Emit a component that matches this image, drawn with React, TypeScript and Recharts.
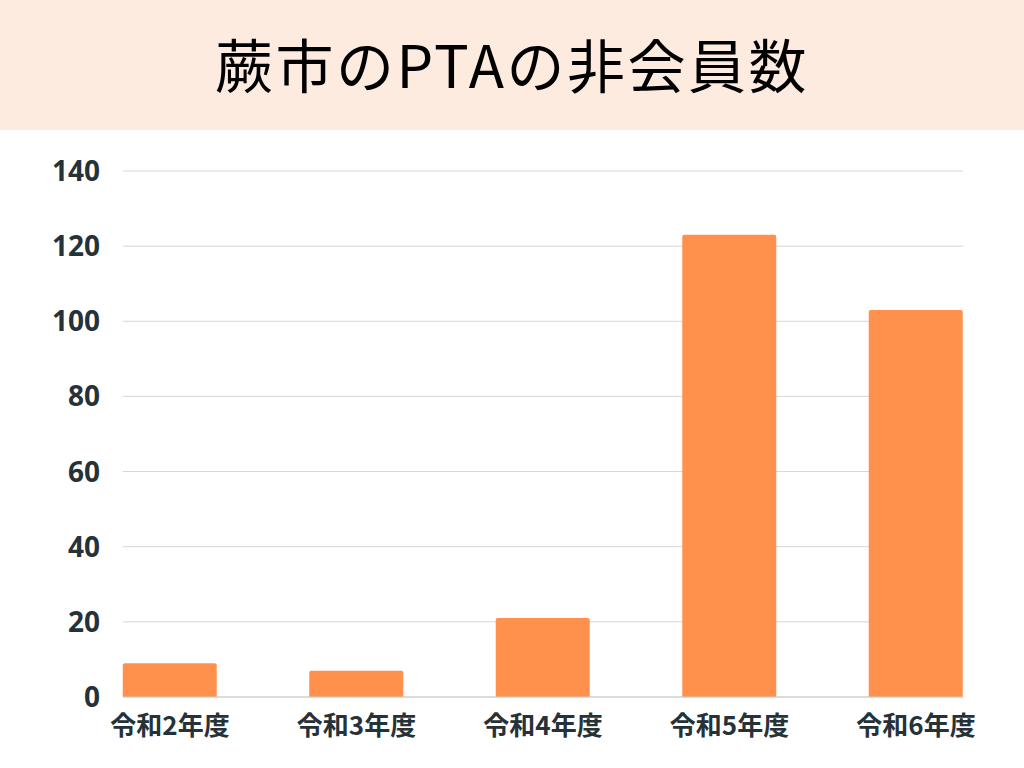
import React from "react";
import { BarChart, Bar, XAxis, YAxis, CartesianGrid } from "recharts";

const TITLE = "蕨市のPTAの非会員数";
const categories = ["令和2年度", "令和3年度", "令和4年度", "令和5年度", "令和6年度"];
const nonMembers = [9, 7, 21, 123, 103];
const yTicks = [0, 20, 40, 60, 80, 100, 120, 140];

const data = categories.map((c, i) => ({ name: c, value: nonMembers[i] }));

export default function App() {
  return (
    <div
      style={{
        position: "absolute",
        left: 0,
        top: 0,
        width: 1024,
        height: 768,
        background: "#ffffff",
        overflow: "hidden",
      }}
    >
      <div
        style={{
          height: 130,
          background: "#FEEBE0",
          display: "flex",
          alignItems: "center",
          justifyContent: "center",
          fontFamily: '"Noto Sans CJK JP", "Noto Sans", sans-serif',
          fontWeight: 400,
          fontSize: 58,
          letterSpacing: 2.5,
          color: "#000000",
          paddingBottom: 4,
          boxSizing: "border-box",
        }}
      >
        {TITLE}
      </div>
      <BarChart
        width={1024}
        height={638}
        data={data}
        margin={{ top: 41, right: 61, bottom: 21, left: 0 }}
        barSize={94}
      >
        <CartesianGrid vertical={false} stroke="#d6d6d6" strokeWidth={1} />
        <XAxis
          dataKey="name"
          padding={{ left: -46.25, right: -46.25 }}
          height={50}
          axisLine={{ stroke: "#cccccc", strokeWidth: 1 }}
          tickLine={false}
          tickMargin={14}
          interval={0}
          tick={{
            fill: "#263238",
            fontSize: 26,
            fontWeight: 700,
            fontFamily: '"Noto Sans CJK JP", sans-serif',
          }}
        />
        <YAxis
          width={123}
          domain={[0, 140]}
          ticks={yTicks}
          axisLine={false}
          tickLine={false}
          tickMargin={17}
          interval={0}
          tick={{
            fill: "#263238",
            fontSize: 28,
            fontWeight: 700,
            fontFamily: '"Open Sans", sans-serif',
          }}
        />
        <Bar dataKey="value" fill="#FF914D" radius={[2, 2, 0, 0]} isAnimationActive={false} />
      </BarChart>
    </div>
  );
}
